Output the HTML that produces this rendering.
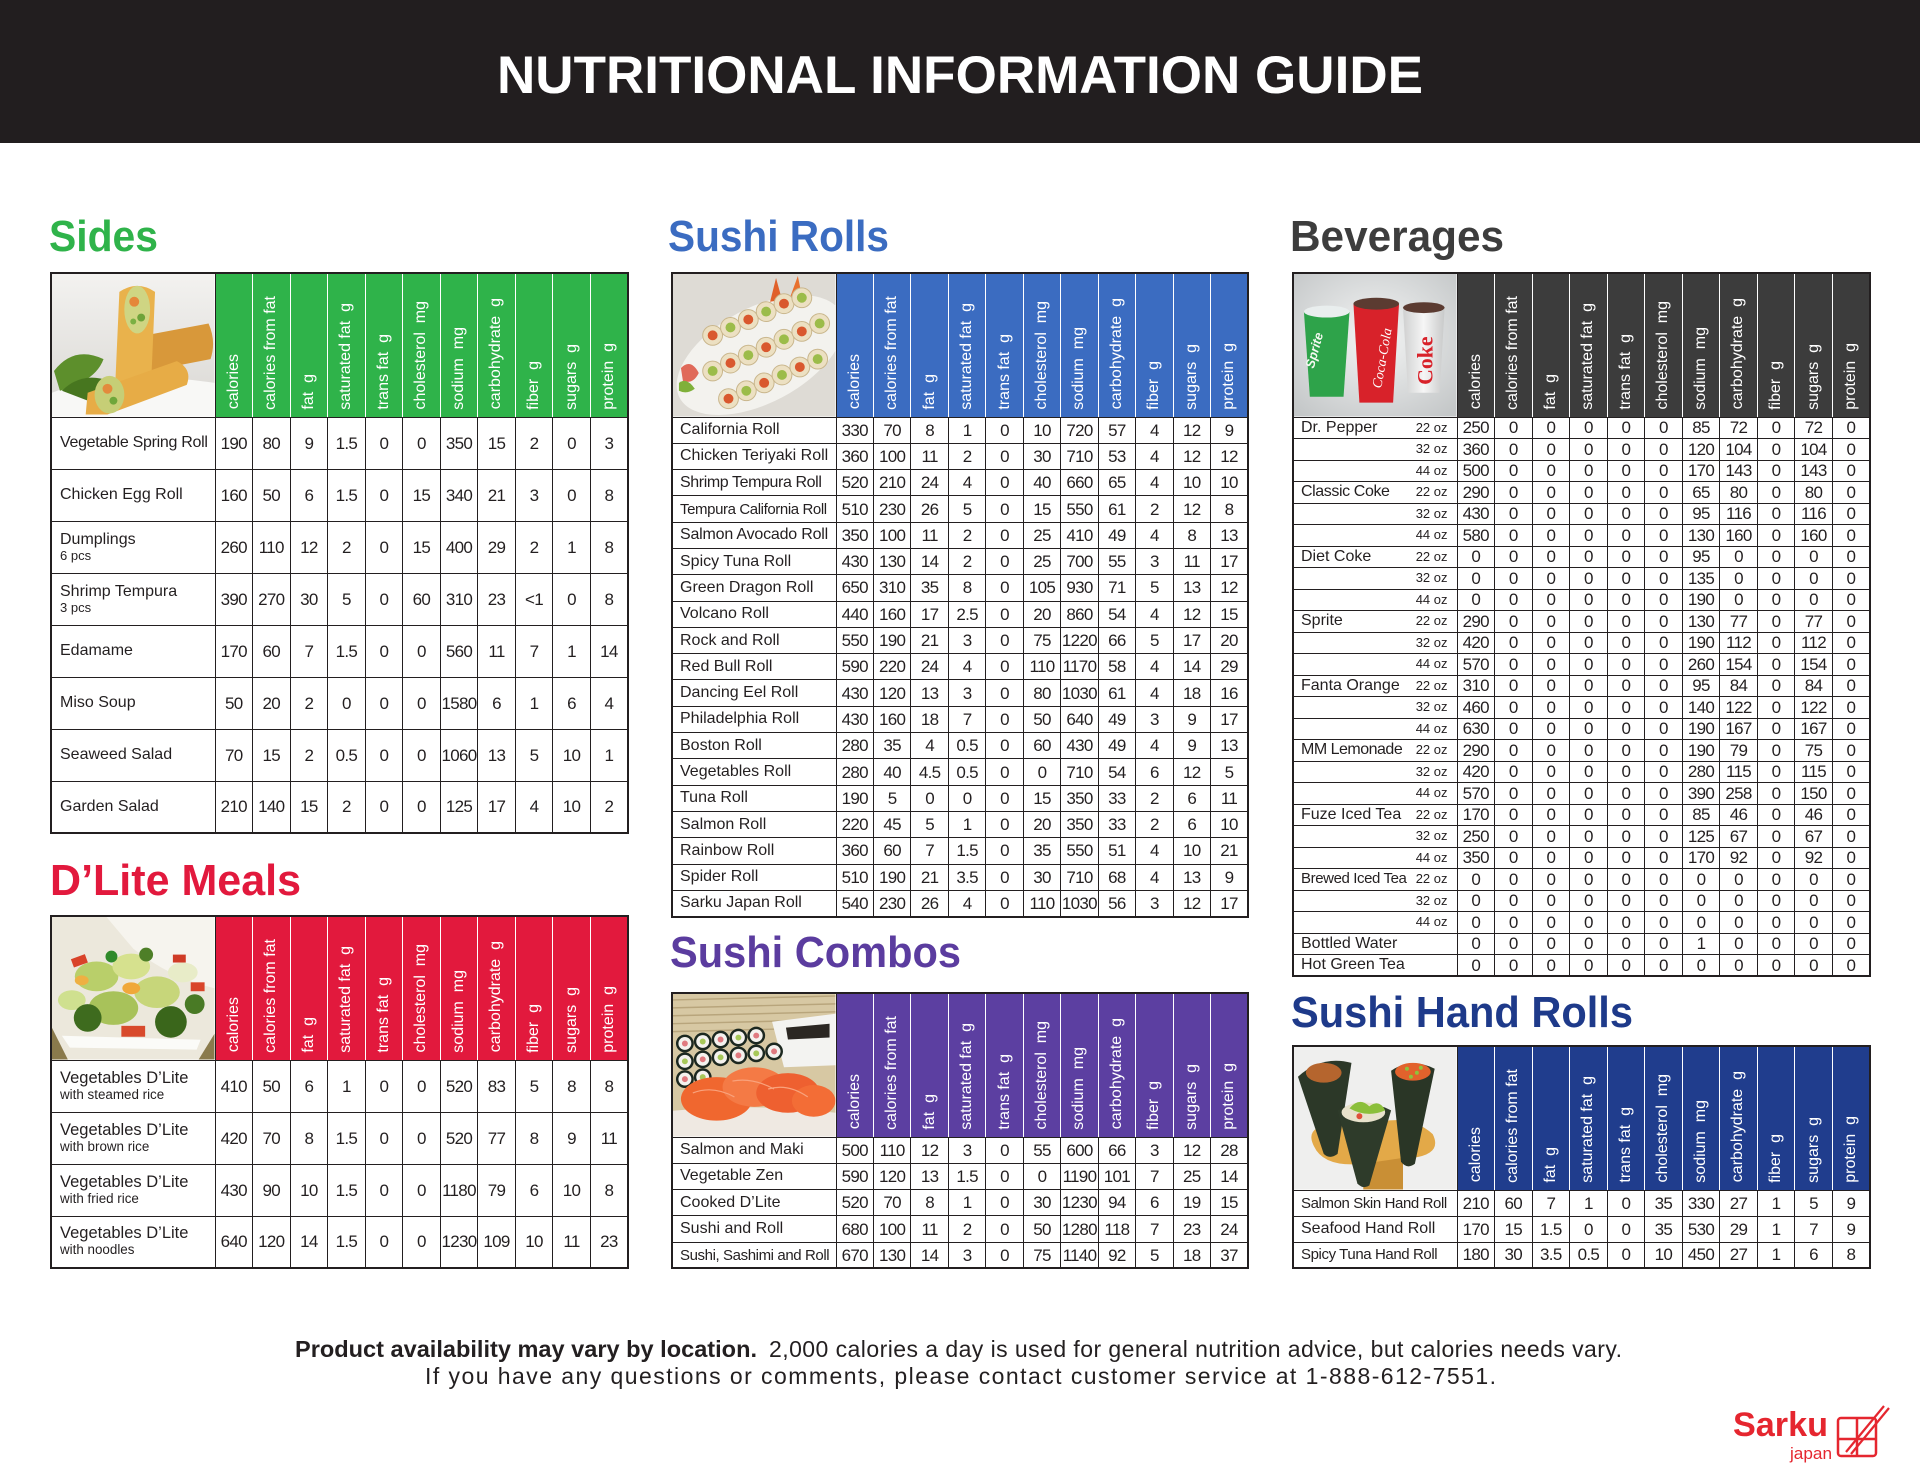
<!DOCTYPE html>
<html><head><meta charset="utf-8"><title>Nutritional Information Guide</title>
<style>
html,body{margin:0;padding:0;background:#fff;}
#pg{position:relative;width:1920px;height:1484px;overflow:hidden;background:#fff;font-family:"Liberation Sans",Arial,sans-serif;color:#231f20;}
.hdr{position:absolute;left:0;top:0;width:1920px;height:143px;background:#221e1f;}
svg.ov{position:absolute;left:0;top:0;}
.nt{position:absolute;border-collapse:collapse;table-layout:fixed;border:2px solid #231f20;}
.nt td{border:1px solid #231f20;padding:0;text-align:center;vertical-align:middle;font:17px/1 "Liberation Sans",sans-serif;letter-spacing:-.7px;color:#231f20;white-space:nowrap;overflow:hidden;}
.nt td.nm{text-align:left;padding-left:7px;font-family:"Liberation Sans",sans-serif;font-size:16px;letter-spacing:0;}
.nt td.nm i{font-style:normal;float:right;font-size:13px;line-height:16px;margin-right:9px;letter-spacing:0;}
.big td.nm{font-size:16px;padding-left:8px;}
.nt th{position:relative;padding:0;border:1px solid #fff;border-bottom:1px solid #231f20;font-weight:normal;}
.nt th.im{border:1px solid #231f20;background:#fff;}
.nt th.im svg{position:absolute;left:0;top:0;width:100%;height:100%;display:block;}
.nt th span{position:absolute;left:50%;bottom:7px;writing-mode:vertical-rl;transform:translateX(-50%) rotate(180deg);white-space:pre;color:#fff;font:16px/16px "Liberation Sans",sans-serif;}
.nt thead tr{height:144px;}
.g th{background:#2fb34a;}
.r th{background:#e2193d;}
.b th{background:#3b6cc1;}
.p th{background:#5c3fa1;}
.k th{background:#3c3c3c;}
.n th{background:#203d8d;}
#t1 tbody tr,#t2 tbody tr{height:52px;}
#t3 tbody tr,#t4 tbody tr{height:26.3px;}
#t5 tbody tr{height:21.5px;}
#t6 tbody tr{height:26px;}
.n2{font-size:16px;line-height:17px;}
.n2d{font-size:16.5px;line-height:17px;}
.sub{font-size:13px;line-height:16px;}
.sbd{font-size:13.4px;line-height:16px;}
.nt td.tt{font-size:15px;letter-spacing:-.4px;}
</style></head>
<body><div id="pg">
<div class="hdr"></div>
<svg class="ov" width="1920" height="1484" viewBox="0 0 1920 1484">
<g font-family="Liberation Sans, Arial, sans-serif">
<text x="960" y="93" text-anchor="middle" font-weight="bold" font-size="53" fill="#fff" textLength="926" lengthAdjust="spacingAndGlyphs">NUTRITIONAL INFORMATION GUIDE</text>
<text x="49" y="251" font-weight="bold" font-size="44" fill="#2fb34a" textLength="109" lengthAdjust="spacingAndGlyphs">Sides</text>
<text x="668" y="251" font-weight="bold" font-size="44" fill="#3b6cc1" textLength="221" lengthAdjust="spacingAndGlyphs">Sushi Rolls</text>
<text x="1290" y="251" font-weight="bold" font-size="44" fill="#3d3d3d" textLength="214" lengthAdjust="spacingAndGlyphs">Beverages</text>
<text x="50" y="895" font-weight="bold" font-size="44" fill="#e2193d" textLength="251" lengthAdjust="spacingAndGlyphs">D’Lite Meals</text>
<text x="670" y="967" font-weight="bold" font-size="44" fill="#5b3c9f" textLength="291" lengthAdjust="spacingAndGlyphs">Sushi Combos</text>
<text x="1291" y="1027" font-weight="bold" font-size="44" fill="#1e3a8a" textLength="342" lengthAdjust="spacingAndGlyphs">Sushi Hand Rolls</text>
<text x="295" y="1357" font-weight="bold" font-size="23" fill="#231f20" textLength="462" lengthAdjust="spacingAndGlyphs">Product availability may vary by location.</text>
<text x="769" y="1357" font-size="23" fill="#231f20" textLength="853" lengthAdjust="spacing">2,000 calories a day is used for general nutrition advice, but calories needs vary.</text>
<text x="425" y="1384" font-size="23" fill="#231f20" textLength="1071" lengthAdjust="spacing">If you have any questions or comments, please contact customer service at 1-888-612-7551.</text>
<text x="1733" y="1436" font-weight="bold" font-size="34" fill="#e5262f" textLength="95" lengthAdjust="spacingAndGlyphs">Sarku</text>
<text x="1790" y="1459" font-size="17" fill="#e5262f" textLength="42" lengthAdjust="spacingAndGlyphs">japan</text>
</g>
<g stroke="#e5262f" stroke-width="2.5" fill="none"><rect x="1838" y="1418" width="38" height="38" rx="3"/><line x1="1857" y1="1418" x2="1857" y2="1456"/><line x1="1838" y1="1439" x2="1876" y2="1439"/></g>
<g stroke="#e5262f" stroke-width="2.2"><line x1="1846" y1="1452" x2="1884" y2="1406"/><line x1="1851" y1="1454" x2="1889" y2="1408"/></g>
</svg>

<!-- SIDES -->
<table class="nt g big" id="t1" style="left:50px;top:272px;width:579px">
<colgroup><col style="width:164px"><col span="11"></colgroup>
<thead><tr><th class="im"><svg viewBox="0 0 164 144" preserveAspectRatio="none"><defs><linearGradient id="gs1" x1="0" y1="0" x2="0" y2="1"><stop offset="0" stop-color="#f3f2f0"/><stop offset="1" stop-color="#d9d7d3"/></linearGradient></defs>
<rect width="164" height="144" fill="url(#gs1)"/>
<path d="M0 120 Q60 95 164 110 V144 H0Z" fill="#f8f8f6"/>
<path d="M2 98 Q22 72 52 86 Q44 108 8 118Z" fill="#5d8f2c"/>
<path d="M10 118 Q30 98 58 108 L36 128Z" fill="#47761f"/>
<path d="M94 62 L158 50 Q166 68 160 86 L98 98Z" fill="#d8983a"/>
<path d="M68 18 Q86 6 104 18 L100 112 Q82 120 64 108Z" fill="#e9b24c"/>
<ellipse cx="86" cy="36" rx="13" ry="24" fill="#cfd583"/>
<circle cx="83" cy="28" r="5" fill="#e5873a"/><circle cx="90" cy="44" r="4" fill="#6ea33a"/><circle cx="82" cy="48" r="3" fill="#7bb043"/>
<path d="M36 120 L126 88 Q142 96 136 112 L56 142 L34 142Z" fill="#e7ac46"/>
<ellipse cx="58" cy="122" rx="15" ry="19" fill="#c6ce76"/>
<circle cx="56" cy="116" r="5" fill="#e38a3c"/><circle cx="62" cy="128" r="4" fill="#6fa63a"/>
</svg></th><th><span>calories</span></th><th><span>calories from fat</span></th><th><span>fat  g</span></th><th><span>saturated fat  g</span></th><th><span>trans fat  g</span></th><th><span>cholesterol  mg</span></th><th><span>sodium  mg</span></th><th><span>carbohydrate  g</span></th><th><span>fiber  g</span></th><th><span>sugars  g</span></th><th><span>protein  g</span></th></tr></thead>
<tbody>
<tr><td class="nm" style="letter-spacing:-.3px">Vegetable Spring Roll</td><td>190</td><td>80</td><td>9</td><td>1.5</td><td>0</td><td>0</td><td>350</td><td>15</td><td>2</td><td>0</td><td>3</td></tr>
<tr><td class="nm">Chicken Egg Roll</td><td>160</td><td>50</td><td>6</td><td>1.5</td><td>0</td><td>15</td><td>340</td><td>21</td><td>3</td><td>0</td><td>8</td></tr>
<tr><td class="nm"><div class="n2">Dumplings</div><div class="sub">6 pcs</div></td><td>260</td><td>110</td><td>12</td><td>2</td><td>0</td><td>15</td><td>400</td><td>29</td><td>2</td><td>1</td><td>8</td></tr>
<tr><td class="nm"><div class="n2">Shrimp Tempura</div><div class="sub">3 pcs</div></td><td>390</td><td>270</td><td>30</td><td>5</td><td>0</td><td>60</td><td>310</td><td>23</td><td>&lt;1</td><td>0</td><td>8</td></tr>
<tr><td class="nm">Edamame</td><td>170</td><td>60</td><td>7</td><td>1.5</td><td>0</td><td>0</td><td>560</td><td>11</td><td>7</td><td>1</td><td>14</td></tr>
<tr><td class="nm">Miso Soup</td><td>50</td><td>20</td><td>2</td><td>0</td><td>0</td><td>0</td><td>1580</td><td>6</td><td>1</td><td>6</td><td>4</td></tr>
<tr><td class="nm">Seaweed Salad</td><td>70</td><td>15</td><td>2</td><td>0.5</td><td>0</td><td>0</td><td>1060</td><td>13</td><td>5</td><td>10</td><td>1</td></tr>
<tr><td class="nm">Garden Salad</td><td>210</td><td>140</td><td>15</td><td>2</td><td>0</td><td>0</td><td>125</td><td>17</td><td>4</td><td>10</td><td>2</td></tr>
</tbody></table>

<!-- D'LITE -->
<table class="nt r big" id="t2" style="left:50px;top:915px;width:579px">
<colgroup><col style="width:164px"><col span="11"></colgroup>
<thead><tr><th class="im"><svg viewBox="0 0 164 144" preserveAspectRatio="none">
<rect width="164" height="144" fill="#ece8dc"/>
<path d="M55 0 H164 V72 Q120 62 82 32Z" fill="#f6f4ee"/>
<path d="M0 112 L16 144 H0Z" fill="#8a7a4c"/><path d="M164 118 L148 144 H164Z" fill="#8a7a4c"/>
<path d="M10 120 L150 124 L146 134 L18 132Z" fill="#fbfbf8"/>
<ellipse cx="45" cy="60" rx="22" ry="15" fill="#b9cf6a"/>
<ellipse cx="80" cy="50" rx="19" ry="13" fill="#d6e18e"/>
<ellipse cx="106" cy="76" rx="23" ry="16" fill="#c7d67a"/>
<ellipse cx="62" cy="92" rx="25" ry="17" fill="#a8c25a"/>
<ellipse cx="132" cy="56" rx="15" ry="10" fill="#e8ecc8"/>
<ellipse cx="20" cy="84" rx="14" ry="10" fill="#cfe08f"/>
<circle cx="36" cy="102" r="14" fill="#3e6b1e"/><circle cx="120" cy="106" r="16" fill="#3a661b"/><circle cx="144" cy="88" r="10" fill="#497a25"/><circle cx="95" cy="38" r="7" fill="#4e7f28"/><circle cx="60" cy="40" r="6" fill="#2f8a2a"/>
<rect x="20" y="40" width="15" height="9" fill="#d9432a" transform="rotate(-20 27 44)"/>
<rect x="70" y="110" width="24" height="11" fill="#d84a2c"/>
<rect x="122" y="38" width="13" height="8" fill="#cf3b26"/>
<rect x="140" y="66" width="14" height="9" fill="#d9452b"/>
<ellipse cx="80" cy="72" rx="9" ry="6" fill="#f0a83a"/>
<ellipse cx="30" cy="64" rx="7" ry="5" fill="#eeb043"/>
</svg></th><th><span>calories</span></th><th><span>calories from fat</span></th><th><span>fat  g</span></th><th><span>saturated fat  g</span></th><th><span>trans fat  g</span></th><th><span>cholesterol  mg</span></th><th><span>sodium  mg</span></th><th><span>carbohydrate  g</span></th><th><span>fiber  g</span></th><th><span>sugars  g</span></th><th><span>protein  g</span></th></tr></thead>
<tbody>
<tr><td class="nm"><div class="n2d">Vegetables D’Lite</div><div class="sbd">with steamed rice</div></td><td>410</td><td>50</td><td>6</td><td>1</td><td>0</td><td>0</td><td>520</td><td>83</td><td>5</td><td>8</td><td>8</td></tr>
<tr><td class="nm"><div class="n2d">Vegetables D’Lite</div><div class="sbd">with brown rice</div></td><td>420</td><td>70</td><td>8</td><td>1.5</td><td>0</td><td>0</td><td>520</td><td>77</td><td>8</td><td>9</td><td>11</td></tr>
<tr><td class="nm"><div class="n2d">Vegetables D’Lite</div><div class="sbd">with fried rice</div></td><td>430</td><td>90</td><td>10</td><td>1.5</td><td>0</td><td>0</td><td>1180</td><td>79</td><td>6</td><td>10</td><td>8</td></tr>
<tr><td class="nm"><div class="n2d">Vegetables D’Lite</div><div class="sbd">with noodles</div></td><td>640</td><td>120</td><td>14</td><td>1.5</td><td>0</td><td>0</td><td>1230</td><td>109</td><td>10</td><td>11</td><td>23</td></tr>
</tbody></table>

<!-- SUSHI ROLLS -->
<table class="nt b" id="t3" style="left:671px;top:272px;width:578px">
<colgroup><col style="width:164px"><col span="11"></colgroup>
<thead><tr><th class="im"><svg viewBox="0 0 164 144" preserveAspectRatio="none">
<rect width="164" height="144" fill="#dedbd5"/>
<ellipse cx="88" cy="82" rx="92" ry="48" transform="rotate(-28 88 82)" fill="#f3f2ee"/>
<path d="M8 95 Q18 85 26 100 Q20 112 10 108Z" fill="#e06a5a"/>
<path d="M6 110 Q14 104 22 116 Q14 122 6 118Z" fill="#7fb03a"/>
<path d="M98 28 L104 4 L110 26Z" fill="#e0602a"/><path d="M118 24 L126 2 L130 22Z" fill="#e8702e"/>
<g fill="#ece0c2" stroke="#c9b68c" stroke-width="1">
<circle cx="40" cy="62" r="10"/><circle cx="58" cy="54" r="10"/><circle cx="76" cy="46" r="10"/><circle cx="94" cy="38" r="10"/><circle cx="112" cy="30" r="10"/><circle cx="130" cy="24" r="10"/>
<circle cx="40" cy="98" r="10"/><circle cx="58" cy="90" r="10"/><circle cx="76" cy="82" r="10"/><circle cx="94" cy="74" r="10"/><circle cx="112" cy="66" r="10"/><circle cx="130" cy="58" r="10"/><circle cx="148" cy="50" r="10"/>
<circle cx="56" cy="126" r="10"/><circle cx="74" cy="118" r="10"/><circle cx="92" cy="110" r="10"/><circle cx="110" cy="102" r="10"/><circle cx="128" cy="94" r="10"/><circle cx="146" cy="86" r="10"/>
</g>
<g fill="#d9582e"><circle cx="40" cy="62" r="5"/><circle cx="76" cy="46" r="5"/><circle cx="112" cy="30" r="5"/><circle cx="58" cy="90" r="5"/><circle cx="94" cy="74" r="5"/><circle cx="130" cy="58" r="5"/><circle cx="56" cy="126" r="5"/><circle cx="92" cy="110" r="5"/><circle cx="128" cy="94" r="5"/></g>
<g fill="#9cbc4a"><circle cx="58" cy="54" r="5"/><circle cx="94" cy="38" r="5"/><circle cx="130" cy="24" r="5"/><circle cx="40" cy="98" r="5"/><circle cx="76" cy="82" r="5"/><circle cx="112" cy="66" r="5"/><circle cx="148" cy="50" r="5"/><circle cx="74" cy="118" r="5"/><circle cx="110" cy="102" r="5"/><circle cx="146" cy="86" r="5"/></g>
</svg></th><th><span>calories</span></th><th><span>calories from fat</span></th><th><span>fat  g</span></th><th><span>saturated fat  g</span></th><th><span>trans fat  g</span></th><th><span>cholesterol  mg</span></th><th><span>sodium  mg</span></th><th><span>carbohydrate  g</span></th><th><span>fiber  g</span></th><th><span>sugars  g</span></th><th><span>protein  g</span></th></tr></thead>
<tbody>
<tr><td class="nm">California Roll</td><td>330</td><td>70</td><td>8</td><td>1</td><td>0</td><td>10</td><td>720</td><td>57</td><td>4</td><td>12</td><td>9</td></tr>
<tr><td class="nm">Chicken Teriyaki Roll</td><td>360</td><td>100</td><td>11</td><td>2</td><td>0</td><td>30</td><td>710</td><td>53</td><td>4</td><td>12</td><td>12</td></tr>
<tr><td class="nm" style="letter-spacing:-.4px">Shrimp Tempura Roll</td><td>520</td><td>210</td><td>24</td><td>4</td><td>0</td><td>40</td><td>660</td><td>65</td><td>4</td><td>10</td><td>10</td></tr>
<tr><td class="nm tt">Tempura California Roll</td><td>510</td><td>230</td><td>26</td><td>5</td><td>0</td><td>15</td><td>550</td><td>61</td><td>2</td><td>12</td><td>8</td></tr>
<tr><td class="nm" style="letter-spacing:-.2px">Salmon Avocado Roll</td><td>350</td><td>100</td><td>11</td><td>2</td><td>0</td><td>25</td><td>410</td><td>49</td><td>4</td><td>8</td><td>13</td></tr>
<tr><td class="nm">Spicy Tuna Roll</td><td>430</td><td>130</td><td>14</td><td>2</td><td>0</td><td>25</td><td>700</td><td>55</td><td>3</td><td>11</td><td>17</td></tr>
<tr><td class="nm">Green Dragon Roll</td><td>650</td><td>310</td><td>35</td><td>8</td><td>0</td><td>105</td><td>930</td><td>71</td><td>5</td><td>13</td><td>12</td></tr>
<tr><td class="nm">Volcano Roll</td><td>440</td><td>160</td><td>17</td><td>2.5</td><td>0</td><td>20</td><td>860</td><td>54</td><td>4</td><td>12</td><td>15</td></tr>
<tr><td class="nm">Rock and Roll</td><td>550</td><td>190</td><td>21</td><td>3</td><td>0</td><td>75</td><td>1220</td><td>66</td><td>5</td><td>17</td><td>20</td></tr>
<tr><td class="nm">Red Bull Roll</td><td>590</td><td>220</td><td>24</td><td>4</td><td>0</td><td>110</td><td>1170</td><td>58</td><td>4</td><td>14</td><td>29</td></tr>
<tr><td class="nm">Dancing Eel Roll</td><td>430</td><td>120</td><td>13</td><td>3</td><td>0</td><td>80</td><td>1030</td><td>61</td><td>4</td><td>18</td><td>16</td></tr>
<tr><td class="nm">Philadelphia Roll</td><td>430</td><td>160</td><td>18</td><td>7</td><td>0</td><td>50</td><td>640</td><td>49</td><td>3</td><td>9</td><td>17</td></tr>
<tr><td class="nm">Boston Roll</td><td>280</td><td>35</td><td>4</td><td>0.5</td><td>0</td><td>60</td><td>430</td><td>49</td><td>4</td><td>9</td><td>13</td></tr>
<tr><td class="nm">Vegetables Roll</td><td>280</td><td>40</td><td>4.5</td><td>0.5</td><td>0</td><td>0</td><td>710</td><td>54</td><td>6</td><td>12</td><td>5</td></tr>
<tr><td class="nm">Tuna Roll</td><td>190</td><td>5</td><td>0</td><td>0</td><td>0</td><td>15</td><td>350</td><td>33</td><td>2</td><td>6</td><td>11</td></tr>
<tr><td class="nm">Salmon Roll</td><td>220</td><td>45</td><td>5</td><td>1</td><td>0</td><td>20</td><td>350</td><td>33</td><td>2</td><td>6</td><td>10</td></tr>
<tr><td class="nm">Rainbow Roll</td><td>360</td><td>60</td><td>7</td><td>1.5</td><td>0</td><td>35</td><td>550</td><td>51</td><td>4</td><td>10</td><td>21</td></tr>
<tr><td class="nm">Spider Roll</td><td>510</td><td>190</td><td>21</td><td>3.5</td><td>0</td><td>30</td><td>710</td><td>68</td><td>4</td><td>13</td><td>9</td></tr>
<tr><td class="nm">Sarku Japan Roll</td><td>540</td><td>230</td><td>26</td><td>4</td><td>0</td><td>110</td><td>1030</td><td>56</td><td>3</td><td>12</td><td>17</td></tr>
</tbody></table>

<!-- SUSHI COMBOS -->
<table class="nt p" id="t4" style="left:671px;top:992px;width:578px">
<colgroup><col style="width:164px"><col span="11"></colgroup>
<thead><tr><th class="im"><svg viewBox="0 0 164 144" preserveAspectRatio="none">
<rect width="164" height="144" fill="#d7c8a3"/>
<g stroke="#b8a57c" stroke-width="1.5"><line x1="0" y1="6" x2="164" y2="2"/><line x1="0" y1="14" x2="164" y2="10"/><line x1="0" y1="22" x2="164" y2="18"/><line x1="0" y1="30" x2="164" y2="26"/><line x1="0" y1="38" x2="164" y2="34"/></g>
<path d="M100 28 L164 20 L164 72 L112 74Z" fill="#f3f3f1"/>
<path d="M114 34 L158 30 L158 44 L116 46Z" fill="#2b2723"/>
<g fill="#1c2820"><circle cx="12" cy="50" r="9"/><circle cx="30" cy="48" r="9"/><circle cx="48" cy="46" r="9"/><circle cx="66" cy="44" r="9"/><circle cx="84" cy="42" r="9"/><circle cx="12" cy="68" r="9"/><circle cx="30" cy="66" r="9"/><circle cx="48" cy="64" r="9"/><circle cx="66" cy="62" r="9"/><circle cx="84" cy="60" r="9"/><circle cx="102" cy="58" r="9"/><circle cx="12" cy="86" r="9"/><circle cx="30" cy="84" r="9"/></g>
<g fill="#f4f2ee"><circle cx="12" cy="50" r="6.5"/><circle cx="30" cy="48" r="6.5"/><circle cx="48" cy="46" r="6.5"/><circle cx="66" cy="44" r="6.5"/><circle cx="84" cy="42" r="6.5"/><circle cx="12" cy="68" r="6.5"/><circle cx="30" cy="66" r="6.5"/><circle cx="48" cy="64" r="6.5"/><circle cx="66" cy="62" r="6.5"/><circle cx="84" cy="60" r="6.5"/><circle cx="102" cy="58" r="6.5"/><circle cx="12" cy="86" r="6.5"/><circle cx="30" cy="84" r="6.5"/></g>
<g fill="#e07a80"><circle cx="12" cy="50" r="3"/><circle cx="48" cy="46" r="3"/><circle cx="84" cy="42" r="3"/><circle cx="30" cy="66" r="3"/><circle cx="66" cy="62" r="3"/><circle cx="102" cy="58" r="3"/><circle cx="12" cy="86" r="3"/></g>
<g fill="#a7c85a"><circle cx="30" cy="48" r="3"/><circle cx="66" cy="44" r="3"/><circle cx="12" cy="68" r="3"/><circle cx="48" cy="64" r="3"/><circle cx="84" cy="60" r="3"/><circle cx="30" cy="84" r="3"/></g>
<path d="M0 118 Q80 110 164 120 V144 H0Z" fill="#efe9e2"/>
<ellipse cx="44" cy="106" rx="36" ry="22" fill="#f0672f"/>
<ellipse cx="82" cy="94" rx="32" ry="20" fill="#f47a45"/>
<ellipse cx="116" cy="100" rx="32" ry="20" fill="#ee6030"/>
<ellipse cx="142" cy="108" rx="22" ry="16" fill="#f36d36"/>
<g stroke="#f9a27c" stroke-width="1.2" fill="none"><path d="M20 100 Q40 92 62 104"/><path d="M60 88 Q80 84 102 96"/><path d="M96 96 Q116 90 136 104"/></g>
</svg></th><th><span>calories</span></th><th><span>calories from fat</span></th><th><span>fat  g</span></th><th><span>saturated fat  g</span></th><th><span>trans fat  g</span></th><th><span>cholesterol  mg</span></th><th><span>sodium  mg</span></th><th><span>carbohydrate  g</span></th><th><span>fiber  g</span></th><th><span>sugars  g</span></th><th><span>protein  g</span></th></tr></thead>
<tbody>
<tr><td class="nm">Salmon and Maki</td><td>500</td><td>110</td><td>12</td><td>3</td><td>0</td><td>55</td><td>600</td><td>66</td><td>3</td><td>12</td><td>28</td></tr>
<tr><td class="nm">Vegetable Zen</td><td>590</td><td>120</td><td>13</td><td>1.5</td><td>0</td><td>0</td><td>1190</td><td>101</td><td>7</td><td>25</td><td>14</td></tr>
<tr><td class="nm">Cooked D’Lite</td><td>520</td><td>70</td><td>8</td><td>1</td><td>0</td><td>30</td><td>1230</td><td>94</td><td>6</td><td>19</td><td>15</td></tr>
<tr><td class="nm">Sushi and Roll</td><td>680</td><td>100</td><td>11</td><td>2</td><td>0</td><td>50</td><td>1280</td><td>118</td><td>7</td><td>23</td><td>24</td></tr>
<tr><td class="nm tt">Sushi, Sashimi and Roll</td><td>670</td><td>130</td><td>14</td><td>3</td><td>0</td><td>75</td><td>1140</td><td>92</td><td>5</td><td>18</td><td>37</td></tr>
</tbody></table>

<!-- BEVERAGES -->
<table class="nt k" id="t5" style="left:1292px;top:272px;width:579px">
<colgroup><col style="width:164px"><col span="11"></colgroup>
<thead><tr><th class="im"><svg viewBox="0 0 164 144" preserveAspectRatio="none"><defs><radialGradient id="gb5" cx=".5" cy=".45" r=".7"><stop offset="0" stop-color="#f4f5f5"/><stop offset="1" stop-color="#c4c7c8"/></radialGradient><linearGradient id="gsv5" x1="0" x2="1" y1="0" y2="0"><stop offset="0" stop-color="#cfd0d0"/><stop offset=".5" stop-color="#f6f6f6"/><stop offset="1" stop-color="#c8c9c9"/></linearGradient></defs>
<rect width="164" height="144" fill="url(#gb5)"/>
<path d="M10 38 L56 38 L50 124 L16 124Z" fill="#2ea34a"/>
<ellipse cx="33" cy="38" rx="23" ry="6" fill="#e9eeee"/>
<path d="M60 30 L106 30 L100 130 L66 130Z" fill="#d8222a"/>
<ellipse cx="83" cy="30" rx="23" ry="6" fill="#5b3b31"/>
<path d="M110 34 L152 34 L147 120 L115 120Z" fill="url(#gsv5)"/>
<ellipse cx="131" cy="34" rx="21" ry="5.5" fill="#5b3b31"/>
<text x="20" y="96" transform="rotate(-75 20 96)" font-family="Liberation Sans, sans-serif" font-style="italic" font-weight="bold" font-size="13" fill="#f4f8f0">Sprite</text>
<text x="88" y="116" transform="rotate(-80 88 116)" font-family="Liberation Serif, serif" font-style="italic" font-size="14" fill="#ffffff">Coca-Cola</text>
<text x="140" y="112" transform="rotate(-90 140 112)" font-family="Liberation Serif, serif" font-weight="bold" font-size="22" fill="#d8222a">Coke</text>
</svg></th><th><span>calories</span></th><th><span>calories from fat</span></th><th><span>fat  g</span></th><th><span>saturated fat  g</span></th><th><span>trans fat  g</span></th><th><span>cholesterol  mg</span></th><th><span>sodium  mg</span></th><th><span>carbohydrate  g</span></th><th><span>fiber  g</span></th><th><span>sugars  g</span></th><th><span>protein  g</span></th></tr></thead>
<tbody>
<tr><td class="nm">Dr. Pepper<i>22 oz</i></td><td>250</td><td>0</td><td>0</td><td>0</td><td>0</td><td>0</td><td>85</td><td>72</td><td>0</td><td>72</td><td>0</td></tr>
<tr><td class="nm"><i>32 oz</i></td><td>360</td><td>0</td><td>0</td><td>0</td><td>0</td><td>0</td><td>120</td><td>104</td><td>0</td><td>104</td><td>0</td></tr>
<tr><td class="nm"><i>44 oz</i></td><td>500</td><td>0</td><td>0</td><td>0</td><td>0</td><td>0</td><td>170</td><td>143</td><td>0</td><td>143</td><td>0</td></tr>
<tr><td class="nm" style="letter-spacing:-.4px">Classic Coke<i style="letter-spacing:0">22 oz</i></td><td>290</td><td>0</td><td>0</td><td>0</td><td>0</td><td>0</td><td>65</td><td>80</td><td>0</td><td>80</td><td>0</td></tr>
<tr><td class="nm"><i>32 oz</i></td><td>430</td><td>0</td><td>0</td><td>0</td><td>0</td><td>0</td><td>95</td><td>116</td><td>0</td><td>116</td><td>0</td></tr>
<tr><td class="nm"><i>44 oz</i></td><td>580</td><td>0</td><td>0</td><td>0</td><td>0</td><td>0</td><td>130</td><td>160</td><td>0</td><td>160</td><td>0</td></tr>
<tr><td class="nm">Diet Coke<i>22 oz</i></td><td>0</td><td>0</td><td>0</td><td>0</td><td>0</td><td>0</td><td>95</td><td>0</td><td>0</td><td>0</td><td>0</td></tr>
<tr><td class="nm"><i>32 oz</i></td><td>0</td><td>0</td><td>0</td><td>0</td><td>0</td><td>0</td><td>135</td><td>0</td><td>0</td><td>0</td><td>0</td></tr>
<tr><td class="nm"><i>44 oz</i></td><td>0</td><td>0</td><td>0</td><td>0</td><td>0</td><td>0</td><td>190</td><td>0</td><td>0</td><td>0</td><td>0</td></tr>
<tr><td class="nm">Sprite<i>22 oz</i></td><td>290</td><td>0</td><td>0</td><td>0</td><td>0</td><td>0</td><td>130</td><td>77</td><td>0</td><td>77</td><td>0</td></tr>
<tr><td class="nm"><i>32 oz</i></td><td>420</td><td>0</td><td>0</td><td>0</td><td>0</td><td>0</td><td>190</td><td>112</td><td>0</td><td>112</td><td>0</td></tr>
<tr><td class="nm"><i>44 oz</i></td><td>570</td><td>0</td><td>0</td><td>0</td><td>0</td><td>0</td><td>260</td><td>154</td><td>0</td><td>154</td><td>0</td></tr>
<tr><td class="nm">Fanta Orange<i>22 oz</i></td><td>310</td><td>0</td><td>0</td><td>0</td><td>0</td><td>0</td><td>95</td><td>84</td><td>0</td><td>84</td><td>0</td></tr>
<tr><td class="nm"><i>32 oz</i></td><td>460</td><td>0</td><td>0</td><td>0</td><td>0</td><td>0</td><td>140</td><td>122</td><td>0</td><td>122</td><td>0</td></tr>
<tr><td class="nm"><i>44 oz</i></td><td>630</td><td>0</td><td>0</td><td>0</td><td>0</td><td>0</td><td>190</td><td>167</td><td>0</td><td>167</td><td>0</td></tr>
<tr><td class="nm" style="letter-spacing:-.5px">MM Lemonade<i style="letter-spacing:0">22 oz</i></td><td>290</td><td>0</td><td>0</td><td>0</td><td>0</td><td>0</td><td>190</td><td>79</td><td>0</td><td>75</td><td>0</td></tr>
<tr><td class="nm"><i>32 oz</i></td><td>420</td><td>0</td><td>0</td><td>0</td><td>0</td><td>0</td><td>280</td><td>115</td><td>0</td><td>115</td><td>0</td></tr>
<tr><td class="nm"><i>44 oz</i></td><td>570</td><td>0</td><td>0</td><td>0</td><td>0</td><td>0</td><td>390</td><td>258</td><td>0</td><td>150</td><td>0</td></tr>
<tr><td class="nm">Fuze Iced Tea<i>22 oz</i></td><td>170</td><td>0</td><td>0</td><td>0</td><td>0</td><td>0</td><td>85</td><td>46</td><td>0</td><td>46</td><td>0</td></tr>
<tr><td class="nm"><i>32 oz</i></td><td>250</td><td>0</td><td>0</td><td>0</td><td>0</td><td>0</td><td>125</td><td>67</td><td>0</td><td>67</td><td>0</td></tr>
<tr><td class="nm"><i>44 oz</i></td><td>350</td><td>0</td><td>0</td><td>0</td><td>0</td><td>0</td><td>170</td><td>92</td><td>0</td><td>92</td><td>0</td></tr>
<tr><td class="nm tt">Brewed Iced Tea<i style="letter-spacing:0;font-size:13px">22 oz</i></td><td>0</td><td>0</td><td>0</td><td>0</td><td>0</td><td>0</td><td>0</td><td>0</td><td>0</td><td>0</td><td>0</td></tr>
<tr><td class="nm"><i>32 oz</i></td><td>0</td><td>0</td><td>0</td><td>0</td><td>0</td><td>0</td><td>0</td><td>0</td><td>0</td><td>0</td><td>0</td></tr>
<tr><td class="nm"><i>44 oz</i></td><td>0</td><td>0</td><td>0</td><td>0</td><td>0</td><td>0</td><td>0</td><td>0</td><td>0</td><td>0</td><td>0</td></tr>
<tr><td class="nm">Bottled Water</td><td>0</td><td>0</td><td>0</td><td>0</td><td>0</td><td>0</td><td>1</td><td>0</td><td>0</td><td>0</td><td>0</td></tr>
<tr><td class="nm">Hot Green Tea</td><td>0</td><td>0</td><td>0</td><td>0</td><td>0</td><td>0</td><td>0</td><td>0</td><td>0</td><td>0</td><td>0</td></tr>
</tbody></table>

<!-- SUSHI HAND ROLLS -->
<table class="nt n" id="t6" style="left:1292px;top:1045px;width:579px">
<colgroup><col style="width:164px"><col span="11"></colgroup>
<thead><tr><th class="im"><svg viewBox="0 0 164 144" preserveAspectRatio="none">
<rect width="164" height="144" fill="#efefee"/>
<path d="M20 100 Q10 80 40 78 Q60 62 90 75 Q120 70 140 88 Q150 108 120 112 L110 112 L110 144 L70 144 L70 118 Q30 122 20 100Z" fill="#e3a948"/>
<path d="M70 118 L110 112 L110 144 L70 144Z" fill="#c98f35"/>
<path d="M4 30 Q28 8 58 16 L44 108 Q36 114 30 108Z" fill="#2c3828"/>
<ellipse cx="30" cy="26" rx="18" ry="10" fill="#b5652e"/>
<path d="M98 24 Q118 10 142 22 L122 118 Q114 124 108 116Z" fill="#2a3626"/>
<ellipse cx="120" cy="25" rx="18" ry="9" fill="#e2622c"/>
<g fill="#8fc23c"><circle cx="114" cy="22" r="2"/><circle cx="124" cy="26" r="2"/><circle cx="118" cy="30" r="2"/><circle cx="128" cy="21" r="2"/></g>
<path d="M44 64 Q70 50 98 64 L76 140 Q70 144 64 138Z" fill="#2e3b2a"/>
<ellipse cx="70" cy="66" rx="22" ry="10" fill="#e8e2cc"/>
<path d="M56 62 Q66 50 76 60 Q86 52 92 64 Q74 72 56 62Z" fill="#8bbf3a"/>
<circle cx="66" cy="70" r="3" fill="#e0503a"/>
</svg></th><th><span>calories</span></th><th><span>calories from fat</span></th><th><span>fat  g</span></th><th><span>saturated fat  g</span></th><th><span>trans fat  g</span></th><th><span>cholesterol  mg</span></th><th><span>sodium  mg</span></th><th><span>carbohydrate  g</span></th><th><span>fiber  g</span></th><th><span>sugars  g</span></th><th><span>protein  g</span></th></tr></thead>
<tbody>
<tr><td class="nm tt">Salmon Skin Hand Roll</td><td>210</td><td>60</td><td>7</td><td>1</td><td>0</td><td>35</td><td>330</td><td>27</td><td>1</td><td>5</td><td>9</td></tr>
<tr><td class="nm">Seafood Hand Roll</td><td>170</td><td>15</td><td>1.5</td><td>0</td><td>0</td><td>35</td><td>530</td><td>29</td><td>1</td><td>7</td><td>9</td></tr>
<tr><td class="nm tt">Spicy Tuna Hand Roll</td><td>180</td><td>30</td><td>3.5</td><td>0.5</td><td>0</td><td>10</td><td>450</td><td>27</td><td>1</td><td>6</td><td>8</td></tr>
</tbody></table>

</div></body></html>
